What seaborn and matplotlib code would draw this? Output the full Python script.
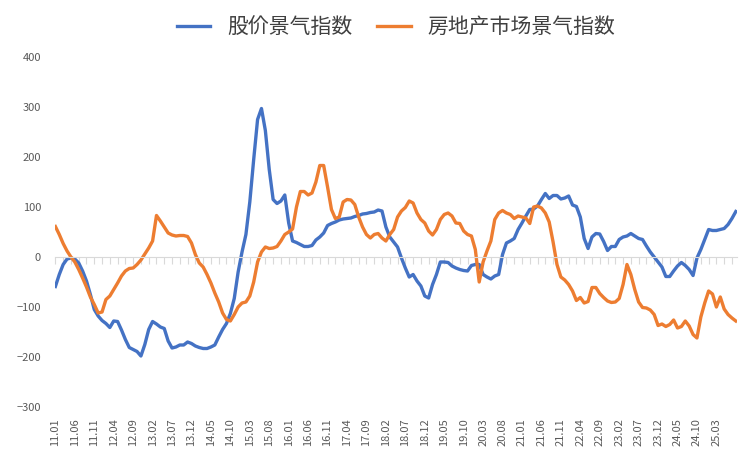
import matplotlib
matplotlib.use('Agg')
import matplotlib.pyplot as plt
from matplotlib import font_manager
import numpy as np
import pandas as pd
import seaborn as sns

# find a CJK font file so the Chinese legend renders
cjk_files = [f for f in font_manager.findSystemFonts() if 'CJK' in f or 'cjk' in f.lower()]
cjk_files.sort(key=lambda f: ('SC' not in f, 'Regular' not in f, f))
if cjk_files:
    font_manager.fontManager.addfont(cjk_files[0])
    cjk_name = font_manager.FontProperties(fname=cjk_files[0]).get_name()
else:
    cjk_name = 'Noto Sans CJK SC'
plt.rcParams['font.family'] = [cjk_name, 'Noto Sans CJK SC', 'Noto Sans CJK JP', 'DejaVu Sans']

# monthly, 2011-01 .. 2025-08
stock_index = [
    -59, -35, -15, -4, -2, -4, -12, -28, -48, -75, -105, -118,
    -127, -133, -141, -128, -129, -146, -165, -181, -185, -189, -198, -175,
    -145, -129, -134, -140, -143, -168, -182, -180, -176, -176, -170, -173,
    -178, -181, -183, -183, -180, -176, -160, -145, -133, -113, -83, -30,
    10, 45, 110, 195, 275, 297, 253, 175, 115, 107, 112, 124,
    68, 32, 29, 25, 21, 21, 23, 34, 40, 48, 63, 67,
    70, 74, 76, 77, 78, 81, 83, 86, 87, 89, 90, 94,
    92, 60, 40, 30, 20, -2, -22, -40, -35, -48, -58, -78,
    -82, -55, -35, -10, -10, -11, -18, -22, -25, -27, -28, -17,
    -15, -15, -35, -40, -44, -38, -35, 5, 28, 32, 37, 55,
    68, 82, 95, 96, 102, 115, 127, 117, 123, 123, 116, 118,
    122, 104, 101, 80, 37, 17, 40, 47, 46, 31, 13, 21,
    21, 35, 40, 42, 47, 42, 37, 35, 22, 10, 0, -10,
    -20, -39, -39, -28, -18, -11, -17, -25, -37, -2, 15, 35,
    55, 53, 53, 55, 57, 65, 77, 91,
]
house_index = [
    61, 45, 27, 12, 0, -10, -25, -42, -60, -80, -95, -112,
    -110, -85, -78, -65, -52, -38, -28, -23, -22, -15, -6, 6,
    18, 32, 83, 72, 60, 48, 44, 42, 43, 43, 41, 28,
    5, -12, -20, -35, -52, -72, -90, -112, -125, -128, -115, -100,
    -92, -90, -78, -50, -10, 10, 20, 17, 18, 21, 32, 45,
    50, 56, 100, 131, 131, 124, 128, 150, 183, 183, 140, 95,
    77, 80, 110, 115, 114, 105, 80, 60, 45, 38, 45, 47,
    38, 32, 45, 55, 80, 92, 99, 112, 108, 88, 75, 68,
    52, 44, 55, 75, 85, 88, 82, 68, 67, 52, 45, 42,
    15, -50, -10, 12, 32, 75, 88, 93, 88, 85, 77, 82,
    80, 78, 67, 100, 102, 98, 88, 70, 30, -15, -40, -46,
    -55, -68, -87, -81, -92, -89, -61, -61, -73, -81, -88, -91,
    -90, -83, -55, -15, -35, -65, -90, -101, -102, -106, -115, -137,
    -134, -139, -135, -126, -142, -139, -128, -138, -155, -162, -120, -92,
    -68, -74, -100, -80, -104, -115, -122, -128,
]
months = pd.period_range('2011-01', periods=len(stock_index), freq='M')
month_labels = [p.strftime('%y.%m') for p in months]

df = pd.DataFrame({
    'idx': np.arange(len(months)),
    '股价景气指数': stock_index,
    '房地产市场景气指数': house_index,
}).melt(id_vars='idx', var_name='series', value_name='value')

fig = plt.figure(figsize=(7.52, 4.71), dpi=100)
ax = fig.add_axes([55 / 752, 1 - 407 / 471, (737 - 55) / 752, 350 / 471])
sns.lineplot(data=df, x='idx', y='value', hue='series', ax=ax,
             palette=['#4472C4', '#ED7D31'], linewidth=2.4)

ax.set_xlim(-0.1, len(months) - 0.7)
ax.set_ylim(-300, 400)
ax.set_yticks(range(-300, 401, 100))
ax.tick_params(axis='y', length=0, labelsize=8, labelcolor='#595959', pad=10)
ax.set_xlabel('')
ax.set_ylabel('')
for s in ['top', 'right', 'left']:
    ax.spines[s].set_visible(False)

# category axis crosses at zero, labels at the bottom
ax.spines['bottom'].set_position(('data', 0))
ax.spines['bottom'].set_color('#D9D9D9')
ax.set_xticks(np.arange(0, len(months), 2))
ax.tick_params(axis='x', direction='out', length=5, color='#D9D9D9', labelbottom=False)

label_pos = np.arange(0, len(months) - 1, 5)
sec = ax.secondary_xaxis(0)
sec.spines['bottom'].set_visible(False)
sec.set_xticks(label_pos)
sec.set_xticklabels([month_labels[i] for i in label_pos], rotation=90)
sec.tick_params(length=0, labelsize=8, labelcolor='#595959', pad=8)

ax.legend(loc='lower center', bbox_to_anchor=(0.5, 1.0), ncol=2, frameon=False,
          fontsize=15, handlelength=1.6, columnspacing=1.2, labelcolor='#404040')

fig.savefig('out.png', dpi=100)
